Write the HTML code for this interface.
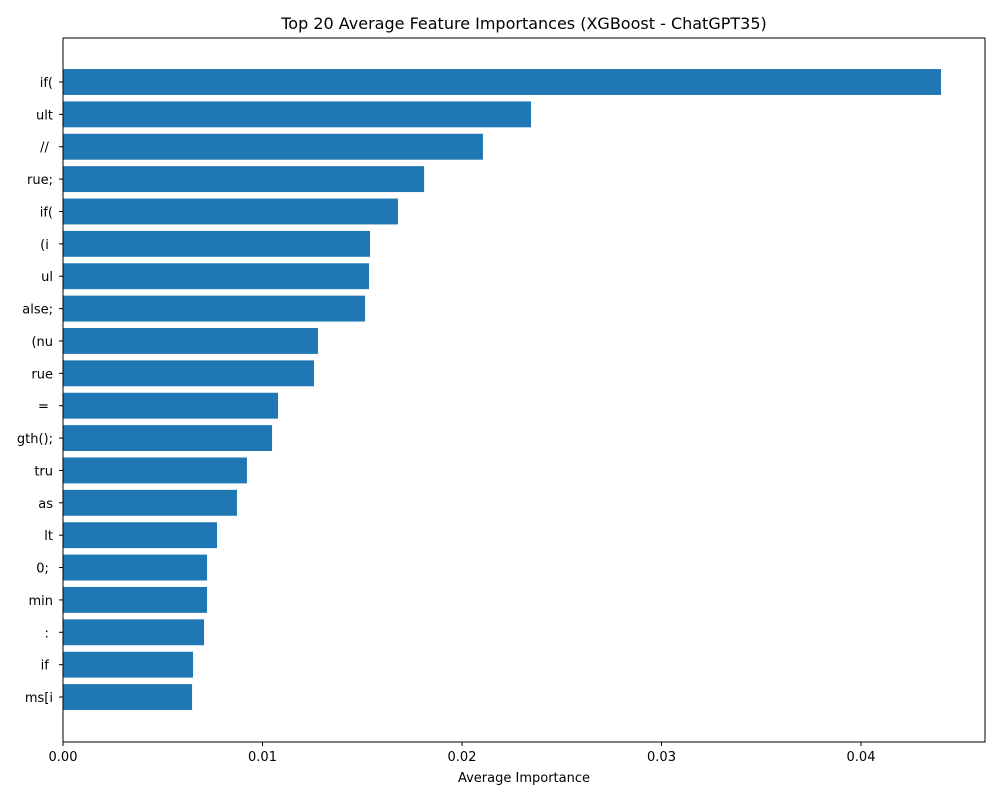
<!DOCTYPE html>
<html><head><meta charset="utf-8"><style>
html,body{margin:0;padding:0;background:#fff;}
svg text{font-family:"DejaVu Sans","Liberation Sans",sans-serif;fill:#000;}
</style></head><body>
<svg id="chart" width="1000" height="800" xmlns="http://www.w3.org/2000/svg">
<text x="524" y="29" font-size="16" text-anchor="middle">Top 20 Average Feature Importances (XGBoost - ChatGPT35)</text>
<g id="bars"></g>
<g id="yticks"></g>
<g id="xticks"></g>
<rect x="63" y="38" width="922" height="704" fill="none" stroke="#000" stroke-width="1"/>
<text x="524" y="782" font-size="13" text-anchor="middle">Average Importance</text>
</svg>
<script>
const categories = ["if(", "ult", "// ", "rue;", " if(", "(i ", "ul", "alse;", "(nu", "rue", "= ", "gth();", "tru", "as", "lt", "0; ", "min", ": ", "if ", "ms[i"];
const importances = [0.04401, 0.02346, 0.02105, 0.01810, 0.01679, 0.01539, 0.01534, 0.01514, 0.01278, 0.01258, 0.01078, 0.01048, 0.00922, 0.00872, 0.00772, 0.00722, 0.00722, 0.00707, 0.00652, 0.00647];
const xTickValues = [0, 0.01, 0.02, 0.03, 0.04];
const xTickLabels = ["0.00", "0.01", "0.02", "0.03", "0.04"];

const NS = "http://www.w3.org/2000/svg";
const x = v => 63 + v * 19950;
const step = 32.37;
const y = i => 82 + i * step;
const bh = step * 0.8;
const bars = document.getElementById('bars');
const yt = document.getElementById('yticks');
const xt = document.getElementById('xticks');

categories.forEach((c, i) => {
  const r = document.createElementNS(NS, 'rect');
  r.setAttribute('x', x(0));
  r.setAttribute('y', y(i) - bh / 2);
  r.setAttribute('width', x(importances[i]) - x(0));
  r.setAttribute('height', bh);
  r.setAttribute('fill', '#1f77b4');
  
  
  bars.appendChild(r);

  const l = document.createElementNS(NS, 'line');
  l.setAttribute('x1', 59); l.setAttribute('x2', 63);
  l.setAttribute('y1', y(i)); l.setAttribute('y2', y(i));
  l.setAttribute('stroke', '#000');
  
  
  yt.appendChild(l);

  const t = document.createElementNS(NS, 'text');
  t.setAttribute('x', 53); t.setAttribute('y', y(i) + 5);
  t.setAttribute('font-size', '13');
  t.setAttribute('text-anchor', 'end');
  t.setAttribute('xml:space', 'preserve');
  t.style.whiteSpace = 'pre';
  t.textContent = c;
  
  
  yt.appendChild(t);
});

xTickValues.forEach((v, i) => {
  const l = document.createElementNS(NS, 'line');
  l.setAttribute('x1', x(v)); l.setAttribute('x2', x(v));
  l.setAttribute('y1', 742); l.setAttribute('y2', 746);
  l.setAttribute('stroke', '#000');
  
  
  xt.appendChild(l);

  const t = document.createElementNS(NS, 'text');
  t.setAttribute('x', x(v)); t.setAttribute('y', 761);
  t.setAttribute('font-size', '13');
  t.setAttribute('text-anchor', 'middle');
  t.textContent = xTickLabels[i];
  
  
  xt.appendChild(t);
});
</script>
</body></html>
